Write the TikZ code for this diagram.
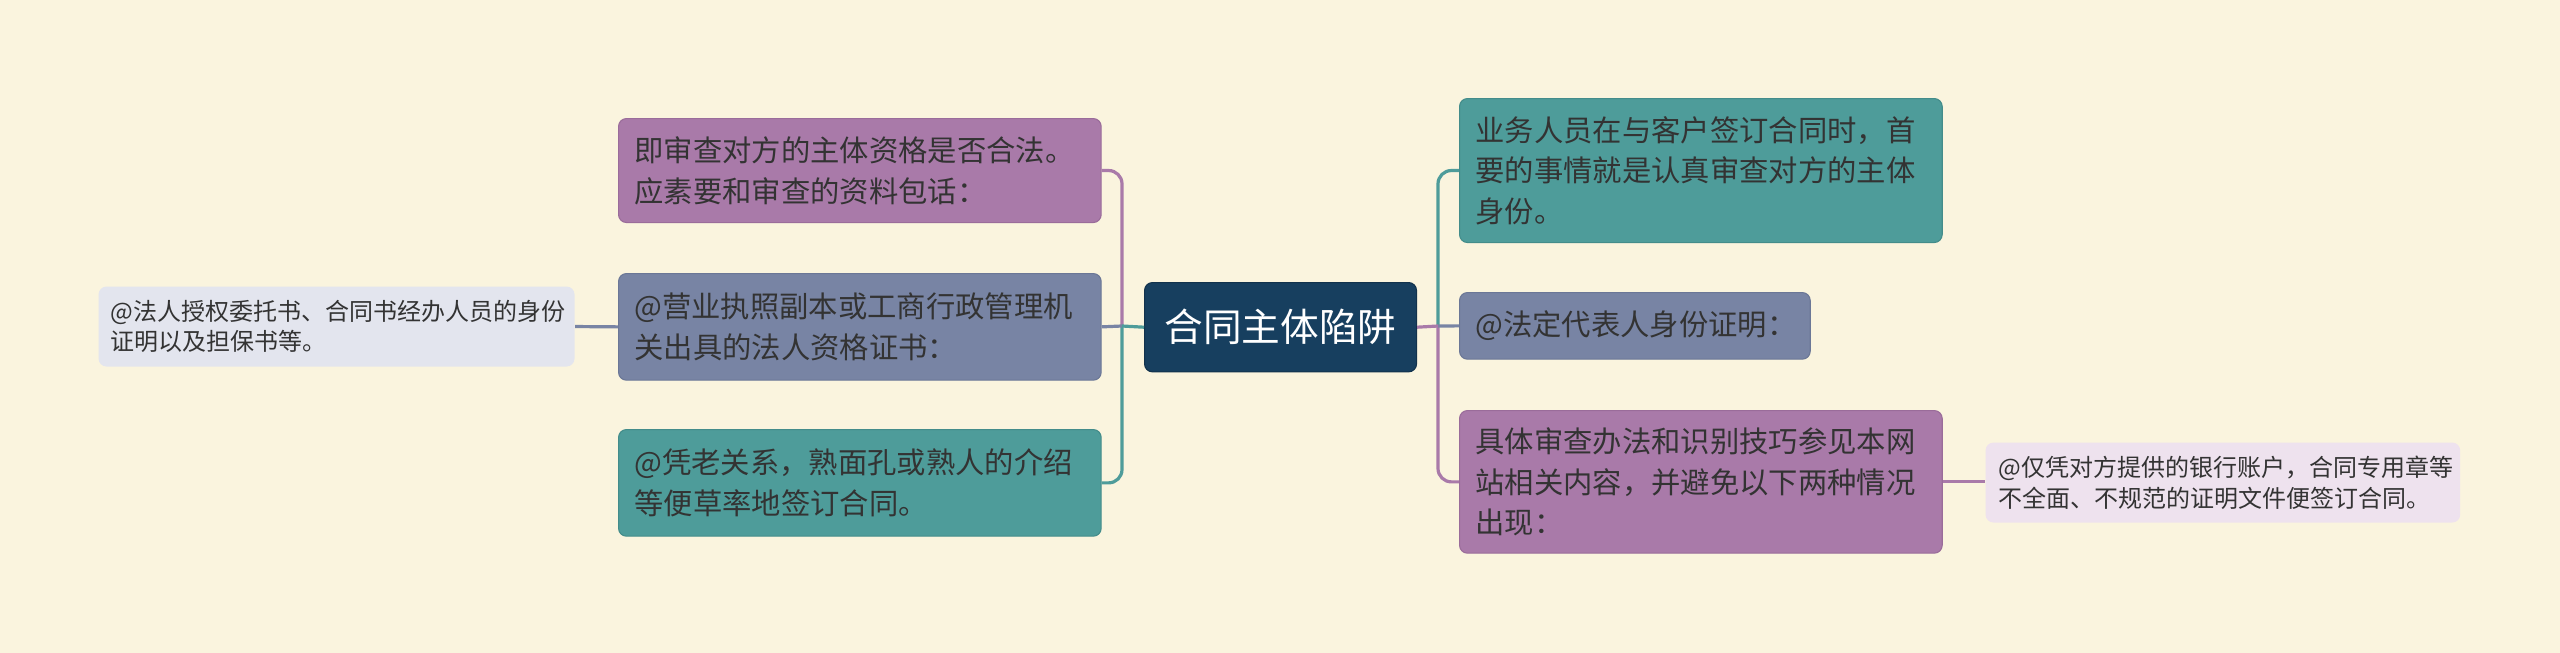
\documentclass[tikz,border=0pt]{standalone}
\usepackage{fontspec}
\setmainfont{Noto Sans CJK SC}
\definecolor{bg}{HTML}{FAF4DE}
\definecolor{navy}{HTML}{173F5F}
\definecolor{pur}{HTML}{A97AA9}
\definecolor{purd}{HTML}{9A6C9A}
\definecolor{sla}{HTML}{7884A4}
\definecolor{slad}{HTML}{6B7796}
\definecolor{tea}{HTML}{4E9C9A}
\definecolor{tead}{HTML}{438C8A}
\definecolor{lgray}{HTML}{E3E5EE}
\definecolor{lpink}{HTML}{EEE2EE}
\definecolor{txt}{HTML}{333333}
\tikzset{
  box/.style={rounded corners=6pt, draw, line width=0.8pt, anchor=north west,
    align=left, inner xsep=12pt, inner ysep=0pt, text=txt,
    font=\fontsize{22}{30.5}\selectfont},
  smallbox/.style={box, draw=none, inner xsep=9pt, font=\fontsize{18}{23}\selectfont},
  link/.style={line width=2.4pt, rounded corners=10pt},
}
\begin{document}
\begin{tikzpicture}[x=0.75pt,y=-0.75pt]
\fill[bg] (0,0) rectangle (2560,653);
\useasboundingbox (0,0) rectangle (2560,653);

\node[box, fill=navy, draw=navy!80!black, align=center, inner xsep=0pt, text=white,
  minimum width=204pt, minimum height=67pt, font=\fontsize{29}{34}\selectfont] (c) at (1144,282) {合同主体陷阱};

\node[box, fill=pur, draw=purd, minimum width=362pt, minimum height=78pt, text width=338pt] (a) at (618,118)
  {即审查对方的主体资格是否合法。\\应素要和审查的资料包话：};
\node[box, fill=sla, draw=slad, minimum width=362pt, minimum height=80pt, text width=338pt] (b) at (618,273)
  {@营业执照副本或工商行政管理机\\关出具的法人资格证书：};
\node[box, fill=tea, draw=tead, minimum width=362pt, minimum height=80pt, text width=338pt] (cc) at (618,429)
  {@凭老关系，熟面孔或熟人的介绍\\等便草率地签订合同。};
\node[smallbox, fill=lgray, minimum width=357pt, minimum height=60pt, text width=339pt] (d) at (98,286)
  {@法人授权委托书、合同书经办人员的身份\\证明以及担保书等。};

\node[box, fill=tea, draw=tead, minimum width=362pt, minimum height=108pt, text width=338pt] (e) at (1459,98)
  {业务人员在与客户签订合同时，首\\要的事情就是认真审查对方的主体\\身份。};
\node[box, fill=sla, draw=slad, minimum width=263pt, minimum height=50pt, text width=239pt] (f) at (1459,292)
  {@法定代表人身份证明：};
\node[box, fill=pur, draw=purd, minimum width=362pt, minimum height=107pt, text width=338pt] (g) at (1459,410)
  {具体审查办法和识别技巧参见本网\\站相关内容，并避免以下两种情况\\出现：};
\node[smallbox, fill=lpink, inner xsep=10pt, minimum width=356pt, minimum height=60pt, text width=336pt] (h) at (1985,442)
  {@仅凭对方提供的银行账户，合同专用章等\\不全面、不规范的证明文件便签订合同。};

\coordinate (jl) at (1122,326);
\coordinate (jr) at (1438,326);

\draw[link, pur] (jl) -- (jl |- a.east) -- (a.east);
\draw[link, tea] (jl) -- (jl |- cc.east) -- (cc.east);
\draw[link, sla] (jl) -- (b.east);
\draw[link, tea] (c.west) -- (jl);
\draw[link, tea] (jr) -- (jr |- e.west) -- (e.west);
\draw[link, pur] (jr) -- (jr |- g.west) -- (g.west);
\draw[link, sla] (jr) -- (f.west);
\draw[link, pur] (c.east) -- (jr);
\draw[link, sla] (b.west) -- (d.east);
\draw[link, pur] (g.east) -- (h.west |- g.east);
\end{tikzpicture}
\end{document}
